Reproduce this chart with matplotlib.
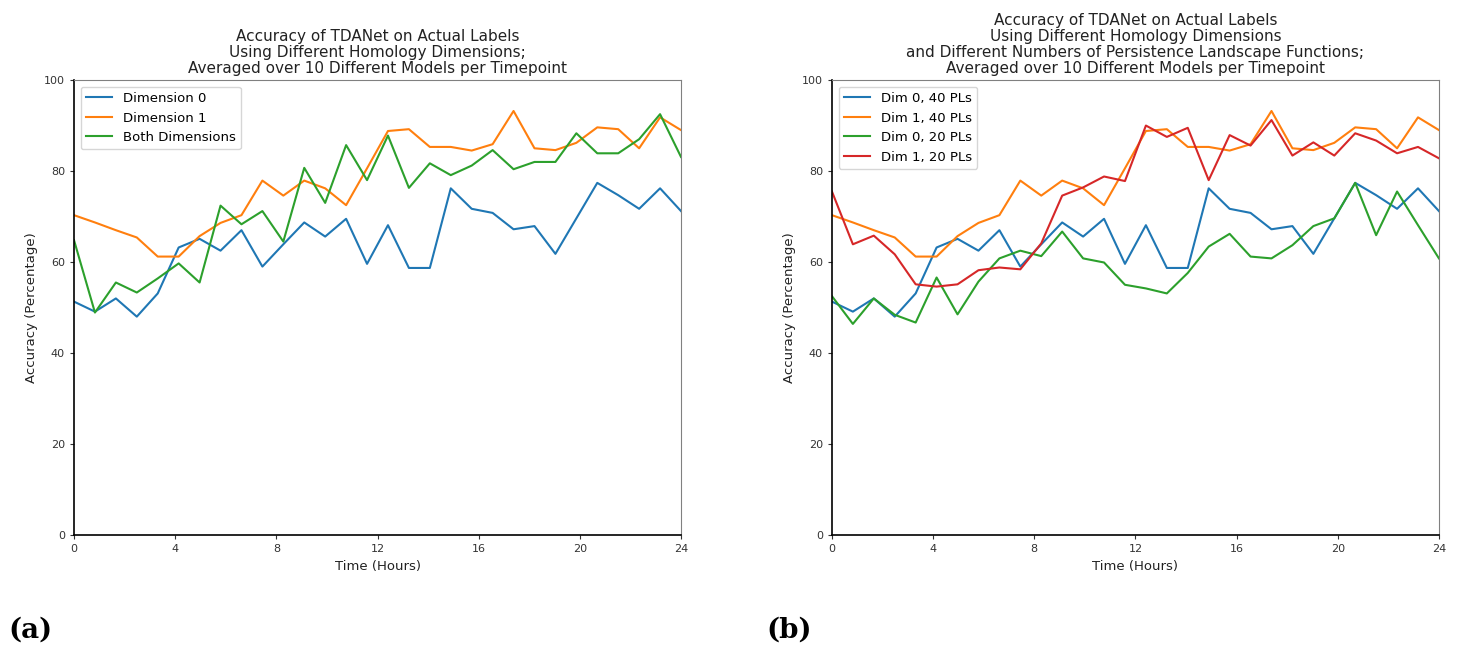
import numpy as np
import matplotlib
matplotlib.use("Agg")
import matplotlib.pyplot as plt

# 30 evenly spaced timepoints over 24 hours
hours = np.linspace(0, 24, 30)

dim0_40 = [51.3, 49.1, 52.0, 48.0, 53.1, 63.2, 65.1, 62.5, 67.0, 59.0,
           63.9, 68.7, 65.6, 69.5, 59.6, 68.1, 58.7, 58.7, 76.2, 71.7,
           70.8, 67.2, 67.9, 61.8, 69.6, 77.4, 74.7, 71.7, 76.2, 71.2]
dim1_40 = [70.3, 68.7, 67.0, 65.4, 61.2, 61.2, 65.7, 68.6, 70.3, 77.9,
           74.6, 77.9, 76.2, 72.5, 80.6, 88.8, 89.2, 85.3, 85.3, 84.5,
           85.9, 93.2, 85.0, 84.6, 86.2, 89.6, 89.2, 85.0, 91.8, 89.0]
both_dims = [64.8, 48.9, 55.5, 53.3, 56.4, 59.7, 55.5, 72.4, 68.3, 71.2,
             64.5, 80.7, 73.0, 85.7, 78.0, 87.8, 76.3, 81.7, 79.1, 81.2,
             84.6, 80.4, 82.0, 82.0, 88.3, 83.9, 83.9, 87.0, 92.5, 83.1]
dim0_20 = [52.5, 46.4, 52.0, 48.4, 46.7, 56.6, 48.5, 55.7, 60.8, 62.5,
           61.3, 66.7, 60.8, 59.9, 55.0, 54.2, 53.1, 57.6, 63.4, 66.2,
           61.2, 60.8, 63.7, 67.9, 69.6, 77.4, 65.9, 75.5, 68.1, 60.8]
dim1_20 = [75.5, 63.9, 65.8, 61.7, 55.1, 54.6, 55.1, 58.2, 58.8, 58.4,
           64.1, 74.6, 76.4, 78.8, 77.8, 90.0, 87.5, 89.5, 78.0, 87.9,
           85.6, 91.2, 83.4, 86.3, 83.4, 88.3, 86.7, 83.9, 85.3, 82.8]

title_a = ("Accuracy of TDANet on Actual Labels\n"
           "Using Different Homology Dimensions;\n"
           "Averaged over 10 Different Models per Timepoint")
title_b = ("Accuracy of TDANet on Actual Labels\n"
           "Using Different Homology Dimensions\n"
           "and Different Numbers of Persistence Landscape Functions;\n"
           "Averaged over 10 Different Models per Timepoint")

fig = plt.figure(figsize=(14.57, 6.45), dpi=100)
ax_a = fig.add_axes([0.0508, 0.1705, 0.4166, 0.7054])
ax_b = fig.add_axes([0.5710, 0.1705, 0.4166, 0.7054])

ax_a.plot(hours, dim0_40, color="#1f77b4", lw=1.5, label="Dimension 0")
ax_a.plot(hours, dim1_40, color="#ff7f0e", lw=1.5, label="Dimension 1")
ax_a.plot(hours, both_dims, color="#2ca02c", lw=1.5, label="Both Dimensions")

ax_b.plot(hours, dim0_40, color="#1f77b4", lw=1.5, label="Dim 0, 40 PLs")
ax_b.plot(hours, dim1_40, color="#ff7f0e", lw=1.5, label="Dim 1, 40 PLs")
ax_b.plot(hours, dim0_20, color="#2ca02c", lw=1.5, label="Dim 0, 20 PLs")
ax_b.plot(hours, dim1_20, color="#d62728", lw=1.5, label="Dim 1, 20 PLs")

for ax, title in ((ax_a, title_a), (ax_b, title_b)):
    ax.set_xlim(0, 24)
    ax.set_ylim(0, 100)
    ax.set_xticks(range(0, 25, 4))
    ax.set_yticks(range(0, 101, 20))
    ax.tick_params(labelsize=8, length=3, width=0.8, colors="#333333")
    ax.set_xlabel("Time (Hours)", fontsize=9.5, color="#222222", labelpad=4)
    ax.set_ylabel("Accuracy (Percentage)", fontsize=9.5, color="#222222")
    ax.set_title(title, fontsize=11, linespacing=1.08, pad=5, color="#222222")
    ax.legend(loc="upper left", fontsize=9.5)
    for side in ("top", "right"):
        ax.spines[side].set_color("#808080")
    for side in ("left", "bottom"):
        ax.spines[side].set_linewidth(1.2)

fig.text(0.006, 0.012, "(a)", fontsize=20, fontweight="bold", family="DejaVu Serif")
fig.text(0.526, 0.012, "(b)", fontsize=20, fontweight="bold", family="DejaVu Serif")

fig.savefig("out.png", dpi=100)
